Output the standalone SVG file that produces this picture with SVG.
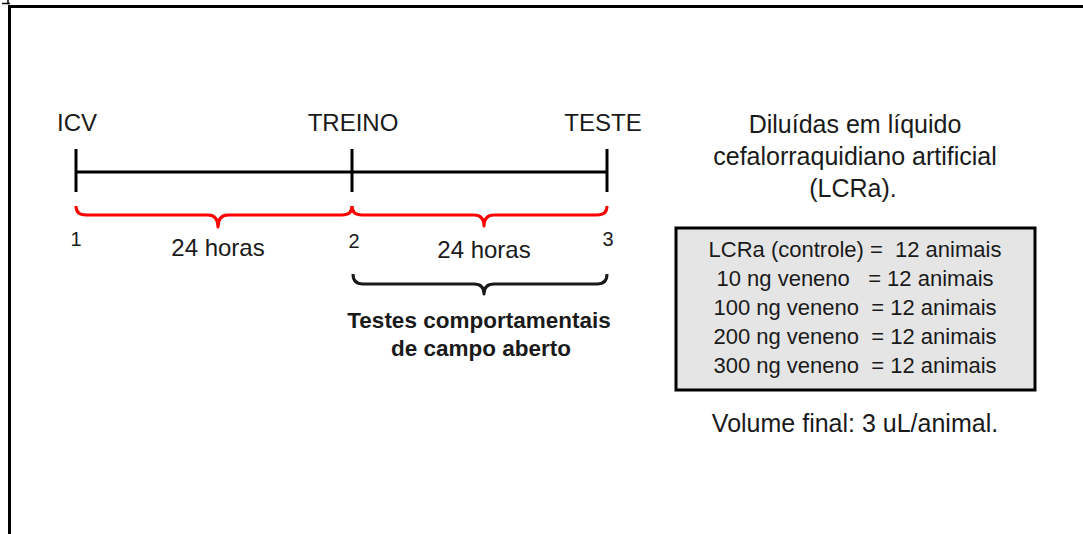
<svg xmlns="http://www.w3.org/2000/svg" width="1083" height="534" viewBox="0 0 1083 534">
<style>
.t{font-family:"Liberation Sans",Arial,sans-serif;fill:#1a1a1a;text-anchor:middle}
.pre{white-space:pre}
.ax{stroke:#000;stroke-width:3;fill:none;stroke-linecap:butt}
.br{stroke:#ff0000;stroke-width:3;fill:none;stroke-linejoin:round}
.bk{stroke:#1a1a1a;stroke-width:3;fill:none;stroke-linejoin:round}
</style>
<rect width="1083" height="534" fill="#fff"/>
<g id="frame">
<line x1="8" y1="6.5" x2="1083" y2="6.5" stroke="#000" stroke-width="3"/>
<line x1="9.5" y1="5" x2="9.5" y2="534" stroke="#000" stroke-width="3"/>
<path d="M2,3.5 H10 M8,0 V4" stroke="#000" stroke-width="1.5" fill="none"/>
</g>
<g id="timeline">
<line class="ax" x1="76" y1="172" x2="607" y2="172"/>
<line class="ax" x1="76" y1="149" x2="76" y2="192"/>
<line class="ax" x1="352" y1="149" x2="352" y2="192"/>
<line class="ax" x1="607" y1="149" x2="607" y2="192"/>
</g>
<g id="labels-top">
<text class="t" x="77" y="131" font-size="24">ICV</text>
<text class="t" x="353" y="131" font-size="24">TREINO</text>
<text class="t" x="603" y="131" font-size="24">TESTE</text>
</g>
<g id="connectors">
<path class="br" d="M76,206 Q76,215 86,215 L208,215 Q218,215 218,227 Q218,215 228,215 L342,215 Q352,215 352,206"/>
<path class="br" d="M352,206 Q352,215 362,215 L474,215 Q484,215 484,226 Q484,215 494,215 L597,215 Q607,215 607,206"/>
<path class="bk" d="M353,274 Q353,284 363,284 L474,284 Q484,284 484,294 Q484,284 494,284 L597,284 Q607,284 607,274"/>
</g>
<g id="points">
<text class="t" x="76" y="246" font-size="20">1</text>
<text class="t" x="354" y="248" font-size="20">2</text>
<text class="t" x="608" y="246" font-size="20">3</text>
<text class="t" x="218" y="256" font-size="24">24 horas</text>
<text class="t" x="484" y="258" font-size="24">24 horas</text>
</g>
<g id="testes">
<text class="t" x="479" y="328" font-size="22.5" font-weight="bold">Testes comportamentais</text>
<text class="t" x="481" y="356" font-size="22.5" font-weight="bold">de campo aberto</text>
</g>
<g id="diluidas">
<text class="t" x="855" y="133" font-size="25">Diluídas em líquido</text>
<text class="t" x="855" y="165" font-size="25">cefalorraquidiano artificial</text>
<text class="t" x="853" y="197" font-size="25">(LCRa).</text>
</g>
<g id="grupos">
<rect x="676" y="228" width="359" height="162" fill="#e5e5e5" stroke="#000" stroke-width="3"/>
<text class="t pre" x="855" y="257" font-size="22">LCRa (controle) =  12 animais</text>
<text class="t pre" x="855" y="286" font-size="22">10 ng veneno   = 12 animais</text>
<text class="t pre" x="855" y="315" font-size="22">100 ng veneno  = 12 animais</text>
<text class="t pre" x="855" y="344" font-size="22">200 ng veneno  = 12 animais</text>
<text class="t pre" x="855" y="373" font-size="22">300 ng veneno  = 12 animais</text>
</g>
<g id="volume">
<text class="t" x="855" y="432" font-size="25">Volume final: 3 uL/animal.</text>
</g>
</svg>
